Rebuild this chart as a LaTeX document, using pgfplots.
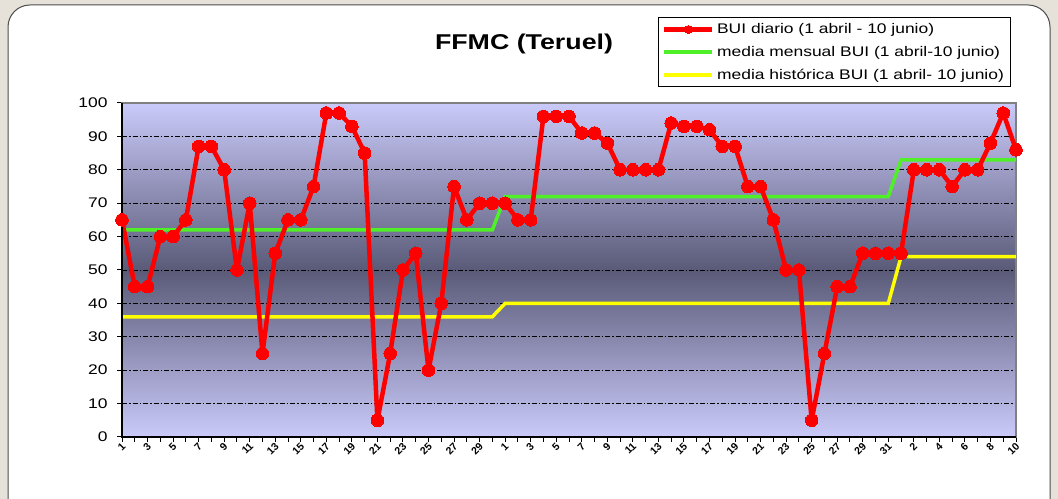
\documentclass[border=0pt]{standalone}
\usepackage{fontspec}
\setmainfont{Liberation Sans}[FakeStretch=1.25]
\newfontfamily\tickfont{Liberation Sans}
\usepackage{pgfplots}
\pgfplotsset{compat=1.18}

\definecolor{bgpage}{RGB}{230,226,218}
\definecolor{lav}{RGB}{202,202,250}
\definecolor{darkmid}{RGB}{90,90,120}
\definecolor{ggreen}{RGB}{80,240,40}
\definecolor{yel}{RGB}{255,255,0}

\pgfplotstableread{
x y
0 65
1 45
2 45
3 60
4 60
5 65
6 87
7 87
8 80
9 50
10 70
11 25
12 55
13 65
14 65
15 75
16 97
17 97
18 93
19 85
20 5
21 25
22 50
23 55
24 20
25 40
26 75
27 65
28 70
29 70
30 70
31 65
32 65
33 96
34 96
35 96
36 91
37 91
38 88
39 80
40 80
41 80
42 80
43 94
44 93
45 93
46 92
47 87
48 87
49 75
50 75
51 65
52 50
53 50
54 5
55 25
56 45
57 45
58 55
59 55
60 55
61 55
62 80
63 80
64 80
65 75
66 80
67 80
68 88
69 97
70 86
}\diario

\pgfplotstableread{
x y
0 62
29 62
30 72
60 72
61 83
70 83
}\mensual

\pgfplotstableread{
x y
0 36
29 36
30 40
60 40
61 54
70 54
}\historica

\begin{document}
\begin{tikzpicture}[x=1bp,y=1bp]
\useasboundingbox (0,0) rectangle (1058,499);
\fill[bgpage] (0,0) rectangle (1058,499);
\draw[fill=white, draw=black!70, line width=1bp, rounded corners=22bp] (8,-30) rectangle (1050,494);
\node[font=\fontsize{21.5}{25}\selectfont\bfseries] at (524,455) {FFMC (Teruel)};
\begin{axis}[
  at={(122bp,62bp)}, anchor=south west, scale only axis,
  width=894bp, height=334bp,
  xmin=0, xmax=70, ymin=0, ymax=100,
  clip=false,
  axis background/.style={shade, top color=lav, bottom color=lav, middle color=darkmid},
  axis line style={draw=gray, line width=2bp},
  ymajorgrids,
  grid style={black, line width=0.8bp, dash pattern=on 5bp off 2bp on 1.5bp off 2bp},
  ytick={0,10,...,100},
  xtick={0,2,...,70},
  minor xtick={1,3,...,69},
  xtick pos=lower, ytick pos=left,
  xticklabels={1,3,5,7,9,11,13,15,17,19,21,23,25,27,29,1,3,5,7,9,11,13,15,17,19,21,23,25,27,29,31,2,4,6,8,10},
  /pgf/number format/assume math mode=true,
  yticklabel style={font=\fontsize{14}{16}\selectfont, xshift=-6bp},
  xticklabel style={font=\tickfont\fontsize{10.5}{12}\selectfont\bfseries, rotate=45, anchor=east, yshift=-3bp, inner sep=0.5bp},
  tick align=outside,
  major tick length=5bp,
  minor tick length=5bp,
  tick style={black, line width=1bp},
  legend style={at={(0.599,1.257)}, anchor=north west, draw=black, line width=1.2bp,
    font=\fontsize{14}{16}\selectfont, inner xsep=4bp, inner ysep=3.5bp,
    row sep=6bp, nodes={inner sep=2.5bp}},
  legend cell align=left,
  reverse legend,
  legend image code/.code={\draw[mark repeat=2,mark phase=2,#1] plot coordinates {(0bp,0bp) (24bp,0bp) (48bp,0bp)};},
]
\addplot[yel, line width=3.5bp, no marks] table[x=x,y=y] {\historica};
\addlegendentry{media histórica BUI (1 abril- 10 junio)}
\addplot[ggreen, line width=3.5bp, no marks] table[x=x,y=y] {\mensual};
\addlegendentry{media mensual BUI (1 abril-10 junio)}
\addplot[red, line width=4.5bp, line join=round, mark=*, mark size=6.3bp, mark options={solid, fill=red, draw=red, line width=0pt},
  legend image post style={mark size=4bp}] table[x=x,y=y] {\diario};
\addlegendentry{BUI diario (1 abril - 10 junio)}
\draw[black, line width=2bp] (rel axis cs:0,1) -- (rel axis cs:0,0) -- (rel axis cs:1,0);
\end{axis}
\end{tikzpicture}
\end{document}
